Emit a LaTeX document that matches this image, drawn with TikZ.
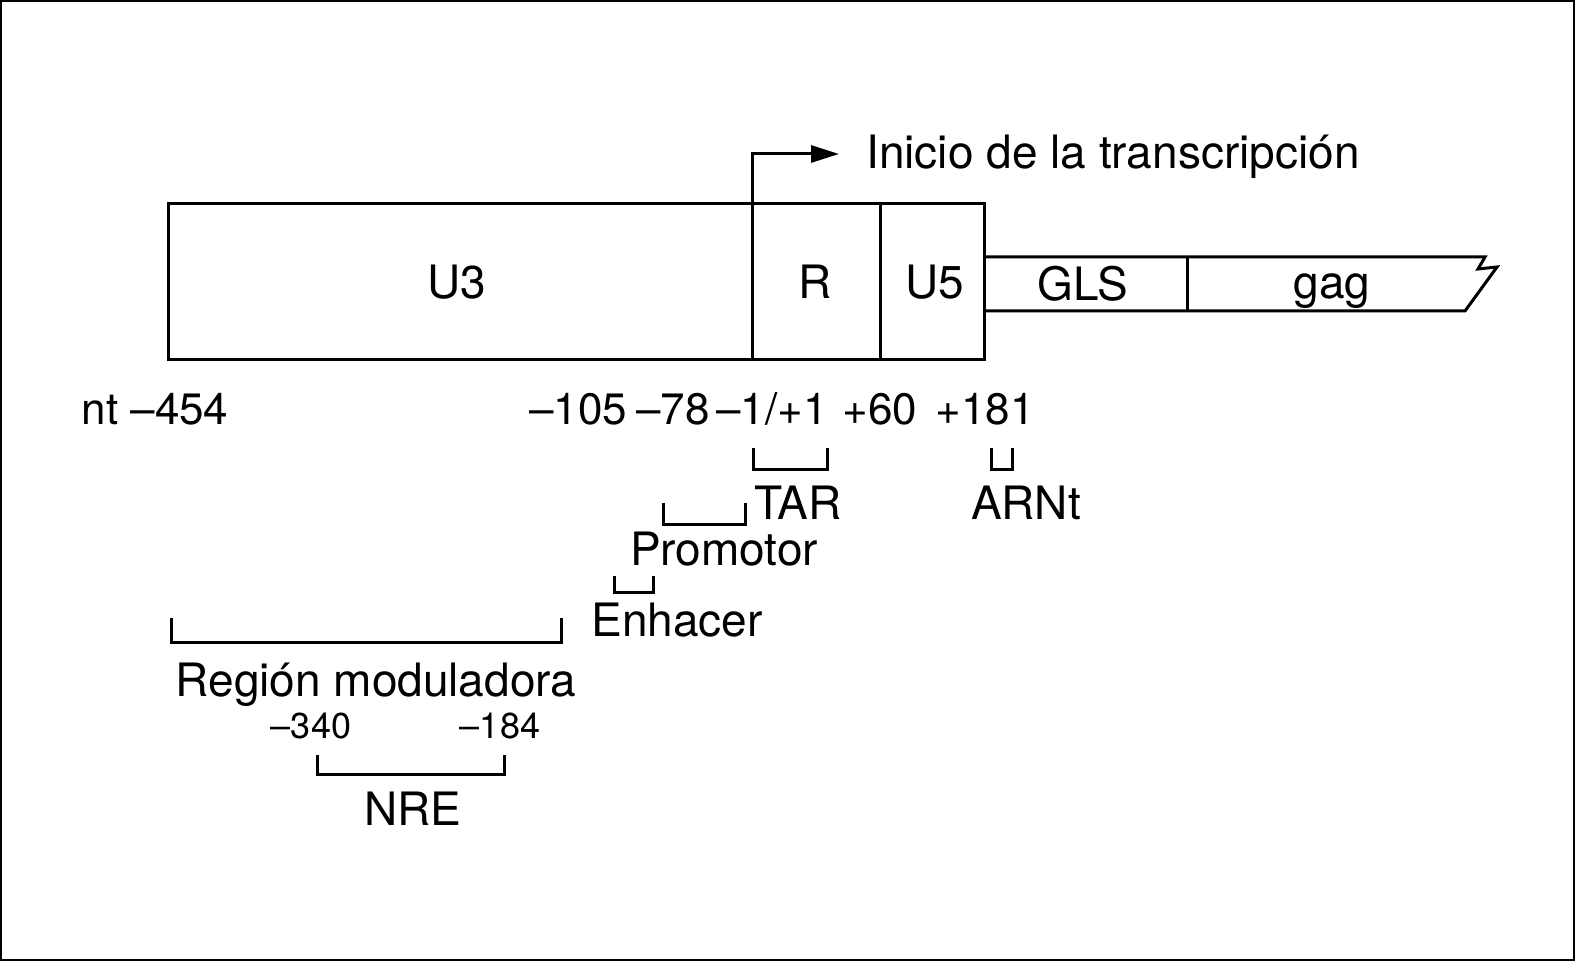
\documentclass[tikz,border=0pt]{standalone}
\usepackage{fontspec}
\setmainfont{TeX Gyre Heros}
\usetikzlibrary{arrows.meta}
\begin{document}
\begin{tikzpicture}[x=0.5pt,y=-0.5pt,
  lbl/.style={font=\fontsize{23}{26}\selectfont, inner sep=0pt, anchor=base},
  num/.style={font=\fontsize{22}{26}\selectfont, inner sep=0pt, anchor=base},
  sml/.style={font=\fontsize{18}{20}\selectfont, inner sep=0pt, anchor=base},
  boxline/.style={line width=1.5pt, line join=miter},
  brk/.style={line width=1.5pt},
  frame/.style={line width=1pt}]
\useasboundingbox (0,0) rectangle (1575,961);
\draw[frame] (1,1) rectangle (1574,960);
% main LTR box
\draw[boxline] (168,204) rectangle (984,360);
\draw[boxline] (752,204) -- (752,360);
\draw[boxline] (880,204) -- (880,360);
% GLS / gag band
\draw[boxline] (984,257) -- (1485,257) -- (1478,269) -- (1497,267) -- (1465,311) -- (984,311);
\draw[boxline] (1187,257) -- (1187,311);
% labels inside
\node[lbl] (u3) at (457,299) {U3};
\node[lbl] (r) at (815,299) {R};
\node[lbl] (u5) at (935,299) {U5};
\node[lbl] (gls) at (1083,301) {GLS};
\node[lbl] (gag) at (1332,299) {gag};
% transcription start arrow
\coordinate (rtop) at (752,204);
\coordinate (arrowend) at (839,154);
\draw[boxline, -{Triangle[length=14pt,width=8.5pt]}] (rtop) |- (arrowend);
\node[lbl, anchor=base west] (inicio) at (866,169) {Inicio de la transcripción};
% coordinates row
\node[num] (n454) at (155,425) {nt –454};
\node[num] (n105) at (578,425) {–105};
\node[num] (n78) at (673,425) {–78};
\node[num] (n1) at (772,425) {–1/+1};
\node[num] (n60) at (880,425) {+60};
\node[num] (n181) at (985,425) {+181};
% TAR
\draw[brk] (753,448) -- (753,470) -- (827,470) -- (827,448);
\node[lbl] (tar) at (798,520) {TAR};
% ARNt
\draw[brk] (991,448) -- (991,470) -- (1012,470) -- (1012,448);
\node[lbl] (arnt) at (1026,520) {ARNt};
% Promotor
\draw[brk] (663,503) -- (663,525) -- (745,525) -- (745,503);
\node[lbl] (prom) at (724,566) {Promotor};
% Enhacer
\draw[brk] (614,576) -- (614,593) -- (653,593) -- (653,576);
\node[lbl] (enh) at (677,637) {Enhacer};
% Region moduladora
\draw[brk] (171,618) -- (171,643) -- (561,643) -- (561,618);
\node[lbl] (reg) at (376,697) {Región moduladora};
% NRE
\node[sml] (n340) at (311,739) {–340};
\node[sml] (n184) at (500,739) {–184};
\draw[brk] (317,755) -- (317,775) -- (504,775) -- (504,755);
\node[lbl] (nre) at (413,826) {NRE};
\end{tikzpicture}
\end{document}
